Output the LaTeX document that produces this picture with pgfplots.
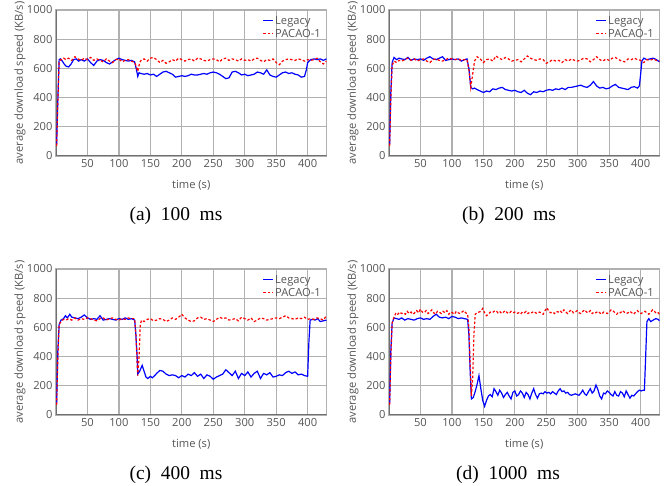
\documentclass[border=0pt]{standalone}
\usepackage{fontspec}
\setmainfont{Open Sans}
\newfontfamily\capfont{Liberation Serif}
\usepackage{pgfplots}
\pgfplotsset{compat=1.18}

\definecolor{lbl}{HTML}{555555}
\definecolor{gridc}{HTML}{B0B0B0}
\definecolor{axc}{HTML}{707070}

\tikzset{axframe/.style={axc, line width=1.3bp}}
\pgfplotsset{
  sub/.style={
    width=270.5bp, height=146bp, scale only axis,
    xmin=0, xmax=430, ymin=0, ymax=1000,
    xtick={50,100,...,400}, ytick={0,200,...,1000},
    axis line style={gridc, line width=1.3bp},
    grid=major, major grid style={gridc, line width=1.3bp},
    major tick length=0pt,
    /pgf/number format/assume math mode=true,
    /pgf/number format/1000 sep={},
    tick label style={font=\fontsize{11.2}{13}\selectfont, text=lbl},
    label style={font=\fontsize{11.2}{13}\selectfont, text=lbl},
    xlabel={time (s)}, ylabel={average download speed (KB/s)},
    xlabel style={at={(axis description cs:0.5,-0.199)}, anchor=center},
    ylabel style={at={(axis description cs:-0.133,0.5)}, anchor=center},
    legend style={draw=none, fill=none, at={(axis description cs:0.985,0.97)},
      anchor=north east, font=\fontsize{11.2}{13}\selectfont,
      row sep=0.5bp, inner sep=0pt, nodes={inner sep=1.5bp, text=lbl}},
    legend cell align=left,
  },
  leg/.style={blue, line width=1.2bp,
    legend image code/.code={\draw[blue, line width=1.3bp] (0bp,0bp) -- (10bp,0bp);}},
  pac/.style={red, line width=1.2bp, dash pattern=on 2.5bp off 2bp,
    legend image code/.code={\draw[red, line width=1.3bp, dash pattern=on 2.5bp off 2bp] (0bp,0bp) -- (10bp,0bp);}},
}

\begin{document}
\begin{tikzpicture}
\path[use as bounding box] (0,0) rectangle (668bp,486bp);

% (a) 100 ms
\begin{axis}[sub, at={(56bp,330bp)}, anchor=south west]
\draw[axframe] (rel axis cs:0,1) -- (rel axis cs:0,0) -- (rel axis cs:1,0);
\addplot[leg] coordinates {(1,80) (3,400) (5,660) (7,665) (10,650) (13,630) (16,615) (20,610) (24,630) (28,660) (32,665) (36,650) (40,660) (45,650) (50,665) (55,640) (60,620) (65,650) (70,660) (75,655) (80,640) (85,630) (90,645) (95,660) (100,670) (105,660) (110,655) (115,650) (120,655) (125,645) (128,590) (130,545) (132,570) (135,565) (140,560) (145,565) (150,555) (155,560) (160,545) (165,560) (170,575) (175,580) (180,570) (185,560) (190,540) (195,545) (200,550) (205,545) (210,550) (215,560) (220,555) (225,555) (230,560) (235,565) (240,560) (245,570) (250,575) (255,570) (260,560) (265,545) (270,530) (275,535) (280,575) (285,580) (290,570) (295,555) (300,560) (305,550) (310,555) (315,560) (320,575) (325,570) (330,560) (335,590) (340,555) (345,545) (350,540) (355,555) (360,570) (365,575) (370,565) (375,570) (380,560) (385,555) (390,540) (395,545) (398,590) (400,640) (405,660) (410,665) (415,660) (420,665) (425,655) (430,665)};
\addplot[pac] coordinates {(1,70) (3,380) (5,650) (8,660) (12,670) (16,660) (20,670) (25,655) (30,680) (35,665) (40,655) (45,670) (50,660) (55,675) (60,655) (65,665) (70,655) (75,645) (80,665) (85,650) (90,640) (95,660) (100,665) (105,645) (110,655) (115,660) (120,650) (125,640) (128,610) (130,580) (133,640) (136,660) (140,665) (145,650) (150,670) (155,675) (160,660) (165,640) (170,655) (175,635) (180,645) (185,660) (190,650) (195,670) (200,660) (205,650) (210,660) (215,665) (220,650) (225,670) (230,665) (235,655) (240,650) (245,660) (250,665) (255,660) (260,645) (265,665) (270,670) (275,655) (280,665) (285,660) (290,650) (295,665) (300,655) (305,660) (310,650) (315,665) (320,670) (325,655) (330,645) (335,660) (340,655) (345,665) (350,640) (355,625) (360,650) (365,660) (370,665) (375,660) (380,655) (385,665) (390,660) (395,650) (400,660) (405,655) (410,660) (415,670) (420,645) (425,630) (430,650)};
\legend{Legacy, PACAO-1}
\end{axis}

% (b) 200 ms
\begin{axis}[sub, at={(389bp,330bp)}, anchor=south west]
\draw[axframe] (rel axis cs:0,1) -- (rel axis cs:0,0) -- (rel axis cs:1,0);
\addplot[leg] coordinates {(1,80) (3,450) (5,640) (8,675) (12,660) (16,670) (20,665) (25,660) (30,675) (35,655) (40,665) (45,660) (50,665) (55,655) (60,670) (65,680) (70,665) (75,660) (80,670) (85,680) (90,655) (95,660) (100,665) (105,660) (110,665) (115,650) (120,660) (124,665) (127,600) (130,470) (133,460) (136,465) (140,455) (145,445) (150,435) (155,445) (160,440) (165,460) (170,455) (175,465) (180,470) (185,455) (190,450) (195,445) (200,450) (205,440) (210,435) (215,450) (220,430) (225,420) (230,440) (235,435) (240,445) (245,440) (250,450) (255,455) (260,450) (265,460) (270,455) (275,465) (280,455) (285,470) (290,470) (295,475) (300,480) (305,485) (310,475) (315,470) (320,485) (325,510) (330,480) (335,465) (340,470) (345,460) (350,465) (355,480) (360,490) (365,470) (370,465) (375,460) (380,455) (385,470) (390,475) (395,465) (398,480) (400,560) (402,650) (405,670) (410,660) (415,665) (420,670) (425,660) (430,645)};
\addplot[pac] coordinates {(1,70) (3,400) (5,620) (8,650) (12,640) (16,655) (20,650) (25,660) (30,670) (35,655) (40,665) (45,650) (50,660) (55,665) (60,650) (65,640) (70,660) (75,665) (80,655) (85,650) (90,660) (95,670) (100,665) (105,660) (110,665) (115,655) (120,660) (124,660) (127,590) (130,470) (133,560) (136,650) (140,680) (145,665) (150,640) (155,660) (160,665) (165,650) (170,685) (175,670) (180,660) (185,675) (190,665) (195,650) (200,655) (205,660) (210,645) (215,665) (220,685) (225,670) (230,660) (235,655) (240,665) (245,660) (250,635) (255,645) (260,660) (265,650) (270,655) (275,640) (280,660) (285,650) (290,665) (295,655) (300,650) (305,660) (310,670) (315,665) (320,645) (325,660) (330,680) (335,660) (340,650) (345,665) (350,655) (355,670) (360,675) (365,660) (370,650) (375,645) (380,665) (385,660) (390,670) (395,660) (400,655) (405,640) (410,660) (415,655) (420,665) (425,655) (430,650)};
\legend{Legacy, PACAO-1}
\end{axis}

% (c) 400 ms
\begin{axis}[sub, at={(56bp,71bp)}, anchor=south west]
\draw[axframe] (rel axis cs:0,1) -- (rel axis cs:0,0) -- (rel axis cs:1,0);
\addplot[leg] coordinates {(1,80) (3,450) (5,620) (8,650) (12,660) (15,680) (18,665) (22,690) (25,670) (30,665) (35,660) (40,670) (45,685) (50,665) (55,655) (60,660) (65,655) (70,680) (75,650) (80,655) (85,660) (90,655) (95,650) (100,660) (105,655) (110,665) (115,655) (120,660) (125,650) (127,550) (129,400) (130,280) (133,300) (137,340) (140,300) (143,260) (146,250) (150,265) (153,255) (157,270) (160,285) (165,305) (170,300) (175,280) (180,270) (185,275) (190,270) (195,255) (200,270) (205,260) (210,280) (215,270) (220,290) (225,265) (230,280) (235,250) (240,275) (245,265) (250,245) (255,260) (260,270) (265,280) (270,310) (275,290) (280,270) (285,300) (290,250) (295,285) (300,270) (305,295) (310,260) (315,285) (320,300) (325,250) (330,285) (335,275) (340,290) (345,260) (350,265) (355,275) (360,270) (365,290) (370,300) (375,285) (380,295) (385,275) (390,280) (395,270) (400,265) (402,500) (404,650) (408,655) (412,650) (416,660) (420,640) (425,645) (430,650)};
\addplot[pac] coordinates {(1,70) (3,400) (5,620) (8,640) (12,655) (16,650) (20,660) (25,650) (30,665) (35,650) (40,660) (45,655) (50,665) (55,660) (60,650) (65,645) (70,660) (75,665) (80,650) (85,660) (90,665) (95,655) (100,650) (105,660) (110,655) (115,665) (120,660) (125,660) (127,550) (129,350) (130,270) (132,400) (134,620) (136,650) (140,640) (145,655) (150,660) (155,645) (160,650) (165,660) (170,655) (175,640) (180,650) (185,665) (190,655) (195,670) (200,690) (205,665) (210,650) (215,640) (220,645) (225,665) (230,670) (235,655) (240,660) (245,650) (250,640) (255,655) (260,670) (265,660) (270,665) (275,650) (280,655) (285,660) (290,645) (295,670) (300,660) (305,650) (310,665) (315,640) (320,650) (325,665) (330,660) (335,650) (340,655) (345,660) (350,665) (355,660) (360,670) (365,680) (370,665) (375,660) (380,655) (385,665) (390,660) (395,670) (400,655) (405,660) (410,655) (415,665) (420,660) (425,650) (430,680)};
\legend{Legacy, PACAO-1}
\end{axis}

% (d) 1000 ms
\begin{axis}[sub, at={(389bp,71bp)}, anchor=south west]
\draw[axframe] (rel axis cs:0,1) -- (rel axis cs:0,0) -- (rel axis cs:1,0);
\addplot[leg] coordinates {(1,80) (3,450) (5,630) (8,665) (12,660) (16,655) (20,665) (25,650) (30,660) (35,655) (40,650) (45,660) (50,665) (55,655) (60,660) (65,655) (70,675) (75,690) (80,670) (85,665) (90,670) (95,660) (100,675) (105,670) (110,660) (115,665) (120,660) (125,655) (127,550) (129,300) (131,110) (134,120) (137,160) (140,210) (143,270) (146,180) (149,100) (152,60) (155,100) (158,130) (161,140) (164,125) (167,180) (170,160) (173,135) (176,170) (179,150) (182,120) (185,140) (188,155) (191,130) (194,110) (197,155) (200,165) (203,130) (206,140) (209,165) (212,150) (215,120) (218,155) (221,140) (224,110) (227,150) (230,180) (233,140) (236,115) (239,145) (242,150) (245,145) (248,160) (251,150) (254,155) (257,145) (260,160) (263,150) (266,140) (269,165) (272,180) (275,160) (278,165) (281,150) (284,155) (287,140) (290,135) (293,140) (296,145) (299,140) (302,135) (305,150) (308,170) (311,145) (314,135) (317,160) (320,180) (323,150) (326,165) (329,205) (332,175) (335,130) (338,110) (341,150) (344,145) (347,165) (350,155) (353,140) (356,130) (359,160) (362,135) (365,130) (368,160) (371,150) (374,125) (377,165) (380,140) (383,115) (386,135) (389,130) (392,145) (395,160) (398,170) (401,165) (404,170) (406,170) (408,400) (410,640) (413,660) (416,640) (420,650) (424,660) (428,655) (430,645)};
\addplot[pac] coordinates {(1,70) (3,400) (5,630) (8,670) (11,700) (14,690) (17,705) (20,695) (23,700) (26,690) (29,710) (32,695) (35,705) (38,690) (41,700) (44,715) (47,700) (50,725) (53,705) (56,700) (59,715) (62,695) (65,705) (68,720) (71,700) (74,690) (77,710) (80,705) (83,695) (86,710) (89,700) (92,715) (95,690) (98,705) (101,700) (104,690) (107,710) (110,700) (113,695) (116,705) (119,715) (122,700) (125,690) (127,600) (129,350) (131,130) (133,250) (135,550) (137,690) (140,700) (143,705) (146,710) (149,730) (152,700) (155,680) (158,690) (161,705) (164,700) (167,710) (170,715) (173,700) (176,710) (179,695) (182,705) (185,715) (188,700) (191,695) (194,710) (197,700) (200,705) (203,695) (206,700) (209,690) (212,705) (215,700) (218,710) (221,695) (224,705) (227,700) (230,710) (233,700) (236,695) (239,705) (242,700) (245,690) (248,715) (251,735) (254,710) (257,700) (260,705) (263,695) (266,710) (269,705) (272,715) (275,700) (278,720) (281,705) (284,695) (287,710) (290,720) (293,700) (296,705) (299,715) (302,700) (305,695) (308,710) (311,720) (314,705) (317,700) (320,715) (323,695) (326,705) (329,700) (332,710) (335,700) (338,690) (341,705) (344,700) (347,695) (350,705) (353,720) (356,715) (359,700) (362,690) (365,705) (368,700) (371,715) (374,705) (377,695) (380,700) (383,710) (386,700) (389,690) (392,705) (395,715) (398,700) (401,695) (404,705) (407,710) (410,700) (413,690) (416,705) (419,720) (422,710) (425,695) (428,700) (430,690)};
\legend{Legacy, PACAO-1}
\end{axis}

\node[font=\capfont\fontsize{19.5}{22}\selectfont, anchor=base] at (176bp,265bp) {(a)\hspace{0.5em}100\hspace{0.5em}ms};
\node[font=\capfont\fontsize{19.5}{22}\selectfont, anchor=base] at (509bp,265bp) {(b)\hspace{0.5em}200\hspace{0.5em}ms};
\node[font=\capfont\fontsize{19.5}{22}\selectfont, anchor=base] at (176bp,7bp) {(c)\hspace{0.5em}400\hspace{0.5em}ms};
\node[font=\capfont\fontsize{19.5}{22}\selectfont, anchor=base] at (508bp,7bp) {(d)\hspace{0.5em}1000\hspace{0.5em}ms};
\end{tikzpicture}
\end{document}
